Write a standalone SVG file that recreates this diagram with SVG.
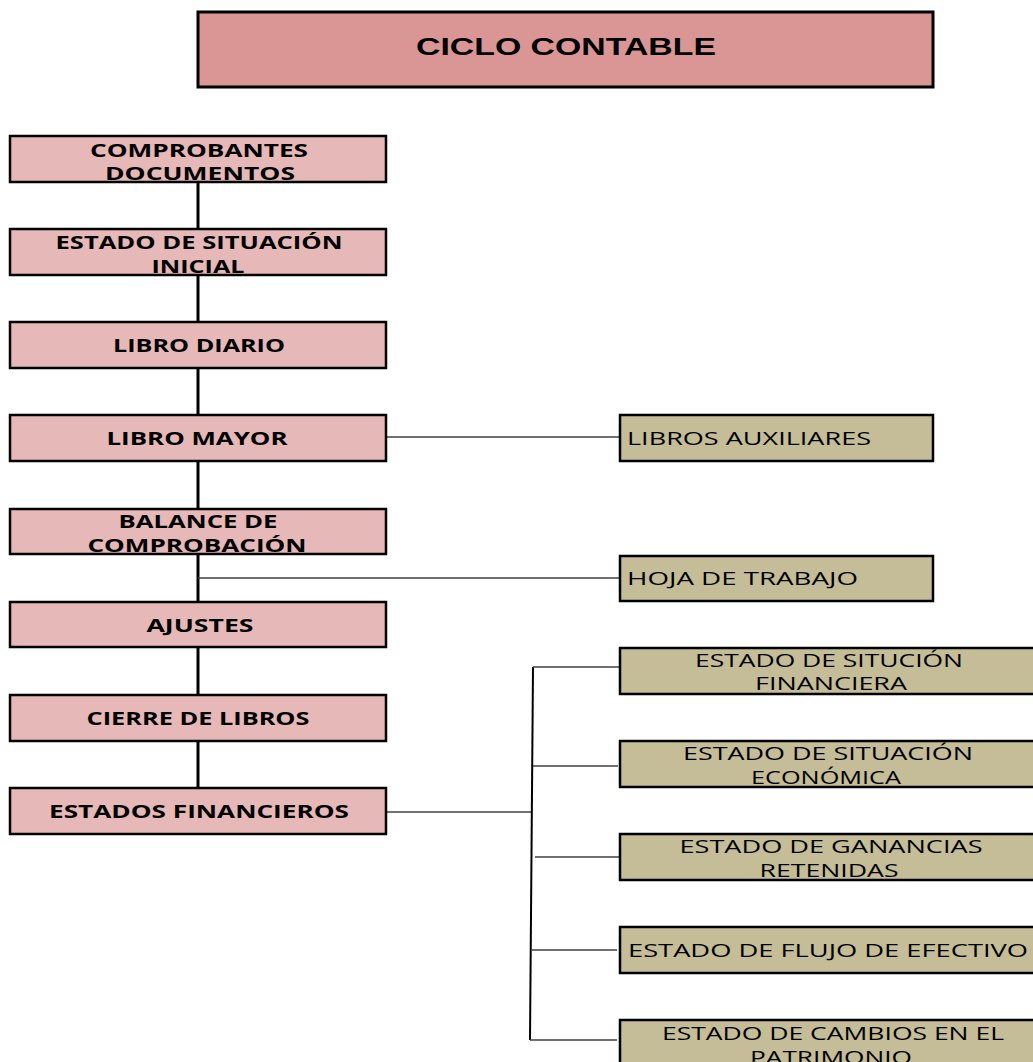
<svg xmlns="http://www.w3.org/2000/svg" width="1033" height="1062" viewBox="0 0 1033 1062">
<style>
.title{fill:#da9694;stroke:#000;stroke-width:3}
.step{fill:#e6b8b7;stroke:#000;stroke-width:2.5}
.aux{fill:#c4bd97;stroke:#000;stroke-width:2.5}
.tt{font-family:"Liberation Sans",Arial,sans-serif;font-weight:bold;font-size:23px;fill:#000}
.st{font-family:"Open Sans","Noto Sans",sans-serif;font-weight:bold;font-size:18.5px;fill:#000}
.at{font-family:"Open Sans","Noto Sans",sans-serif;font-size:18px;fill:#000}
.spine{stroke:#000;stroke-width:3;fill:none}
.thin{stroke:#404040;stroke-width:1.5;fill:none}
.brk{stroke:#000;stroke-width:2;fill:none}
</style>
<rect width="1033" height="1062" fill="#fff"/>
<g id="connectors">
<line class="spine" x1="198" y1="182" x2="198" y2="788"/>
<line class="thin" x1="386" y1="437" x2="620" y2="437"/>
<line class="thin" x1="198" y1="578" x2="620" y2="578"/>
<line class="thin" x1="386" y1="812" x2="532" y2="812"/>
<line class="brk" x1="533" y1="667" x2="530" y2="1040"/>
<line class="thin" x1="533" y1="667" x2="620" y2="667"/>
<line class="thin" x1="533" y1="766" x2="618" y2="766"/>
<line class="thin" x1="535" y1="857" x2="620" y2="857"/>
<line class="thin" x1="532" y1="950" x2="617" y2="950"/>
<line class="thin" x1="530" y1="1040" x2="617" y2="1040"/>
</g>
<g id="ciclo-contable">
<rect class="title" x="198" y="12" width="735" height="75"/>
<text class="tt" x="566" y="55" text-anchor="middle" textLength="300" lengthAdjust="spacingAndGlyphs">CICLO CONTABLE</text>
</g>
<g id="comprobantes">
<rect class="step" x="10" y="136" width="376" height="46"/>
<text class="st" x="199" y="156.5" text-anchor="middle" textLength="218" lengthAdjust="spacingAndGlyphs">COMPROBANTES</text>
<text class="st" x="200" y="179.5" text-anchor="middle" textLength="190" lengthAdjust="spacingAndGlyphs">DOCUMENTOS</text>
</g>
<g id="situacion-inicial">
<rect class="step" x="10" y="229" width="376" height="46"/>
<text class="st" x="199" y="249" text-anchor="middle" textLength="287" lengthAdjust="spacingAndGlyphs">ESTADO DE SITUACIÓN</text>
<text class="st" x="198" y="272.5" text-anchor="middle" textLength="93" lengthAdjust="spacingAndGlyphs">INICIAL</text>
</g>
<g id="libro-diario">
<rect class="step" x="10" y="322" width="376" height="46"/>
<text class="st" x="199" y="352" text-anchor="middle" textLength="172" lengthAdjust="spacingAndGlyphs">LIBRO DIARIO</text>
</g>
<g id="libro-mayor">
<rect class="step" x="10" y="415" width="376" height="46"/>
<text class="st" x="197" y="444.5" text-anchor="middle" textLength="181" lengthAdjust="spacingAndGlyphs">LIBRO MAYOR</text>
</g>
<g id="balance">
<rect class="step" x="10" y="509" width="376" height="45"/>
<text class="st" x="198" y="527.5" text-anchor="middle" textLength="159" lengthAdjust="spacingAndGlyphs">BALANCE DE</text>
<text class="st" x="197" y="551.5" text-anchor="middle" textLength="219" lengthAdjust="spacingAndGlyphs">COMPROBACIÓN</text>
</g>
<g id="ajustes">
<rect class="step" x="10" y="602" width="376" height="45"/>
<text class="st" x="200" y="632" text-anchor="middle" textLength="107" lengthAdjust="spacingAndGlyphs">AJUSTES</text>
</g>
<g id="cierre">
<rect class="step" x="10" y="695" width="376" height="46"/>
<text class="st" x="198" y="725" text-anchor="middle" textLength="223" lengthAdjust="spacingAndGlyphs">CIERRE DE LIBROS</text>
</g>
<g id="estados-financieros">
<rect class="step" x="10" y="788" width="376" height="46"/>
<text class="st" x="199" y="818" text-anchor="middle" textLength="300" lengthAdjust="spacingAndGlyphs">ESTADOS FINANCIEROS</text>
</g>
<g id="libros-auxiliares">
<rect class="aux" x="620" y="415" width="313" height="46"/>
<text class="at" x="627" y="445" textLength="244" lengthAdjust="spacingAndGlyphs">LIBROS AUXILIARES</text>
</g>
<g id="hoja-trabajo">
<rect class="aux" x="620" y="556" width="313" height="45"/>
<text class="at" x="627" y="585" textLength="231" lengthAdjust="spacingAndGlyphs">HOJA DE TRABAJO</text>
</g>
<g id="situacion-financiera">
<rect class="aux" x="620" y="648" width="420" height="46"/>
<text class="at" x="829" y="666.5" text-anchor="middle" textLength="268" lengthAdjust="spacingAndGlyphs">ESTADO DE SITUCIÓN</text>
<text class="at" x="831" y="690" text-anchor="middle" textLength="152" lengthAdjust="spacingAndGlyphs">FINANCIERA</text>
</g>
<g id="situacion-economica">
<rect class="aux" x="620" y="741" width="420" height="46"/>
<text class="at" x="828" y="760" text-anchor="middle" textLength="290" lengthAdjust="spacingAndGlyphs">ESTADO DE SITUACIÓN</text>
<text class="at" x="826" y="784" text-anchor="middle" textLength="150" lengthAdjust="spacingAndGlyphs">ECONÓMICA</text>
</g>
<g id="ganancias-retenidas">
<rect class="aux" x="620" y="834" width="420" height="46"/>
<text class="at" x="831" y="853" text-anchor="middle" textLength="303" lengthAdjust="spacingAndGlyphs">ESTADO DE GANANCIAS</text>
<text class="at" x="829" y="877" text-anchor="middle" textLength="139" lengthAdjust="spacingAndGlyphs">RETENIDAS</text>
</g>
<g id="flujo-efectivo">
<rect class="aux" x="620" y="927" width="420" height="46"/>
<text class="at" x="828" y="957" text-anchor="middle" textLength="400" lengthAdjust="spacingAndGlyphs">ESTADO DE FLUJO DE EFECTIVO</text>
</g>
<g id="cambios-patrimonio">
<rect class="aux" x="620" y="1020" width="420" height="50"/>
<text class="at" x="833" y="1040" text-anchor="middle" textLength="342" lengthAdjust="spacingAndGlyphs">ESTADO DE CAMBIOS EN EL</text>
<text class="at" x="831" y="1064" text-anchor="middle" textLength="162" lengthAdjust="spacingAndGlyphs">PATRIMONIO</text>
</g>
</svg>
